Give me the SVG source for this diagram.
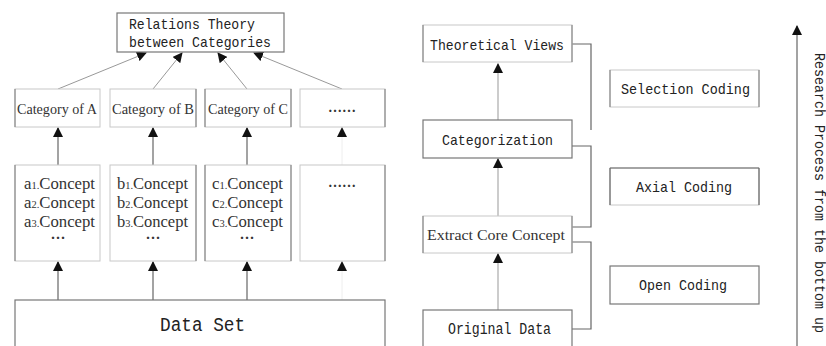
<svg xmlns="http://www.w3.org/2000/svg" width="826" height="346" viewBox="0 0 826 346">
<style>
.bg{fill:#fff}
.box{fill:#fff;stroke:#c8c8c8;stroke-width:1}
.side{stroke:#8a8a8a;stroke-width:1.2;fill:none}
.dk{fill:#fff;stroke:#777;stroke-width:1.2}
.mono{font-family:"Liberation Mono","DejaVu Sans Mono",monospace;fill:#222}
.ser{font-family:"Liberation Serif","DejaVu Serif",serif;fill:#333}
.ln{stroke:#999;stroke-width:1;fill:none}
.ln2{stroke:#666;stroke-width:1.2;fill:none}
.sub{font-size:10px}
</style>
<defs>
<marker id="ah" viewBox="0 0 10 10" refX="9" refY="5" markerWidth="10" markerHeight="10" markerUnits="userSpaceOnUse" orient="auto">
<path d="M0,0 L10,5 L0,10 z" fill="#111"/>
</marker>
</defs>
<rect class="bg" x="0" y="0" width="826" height="346"/>

<g id="connectors">
<line class="ln" x1="58" y1="89" x2="146" y2="53" marker-end="url(#ah)"/>
<line class="ln" x1="153" y1="89" x2="182" y2="53" marker-end="url(#ah)"/>
<line class="ln" x1="247" y1="89" x2="218" y2="53" marker-end="url(#ah)"/>
<line class="ln" x1="342" y1="89" x2="254" y2="53" marker-end="url(#ah)"/>
<line class="ln2" x1="58" y1="165" x2="58" y2="128" marker-end="url(#ah)"/>
<line class="ln2" x1="153" y1="165" x2="153" y2="128" marker-end="url(#ah)"/>
<line class="ln2" x1="247" y1="165" x2="247" y2="128" marker-end="url(#ah)"/>
<line stroke="#eee" x1="342" y1="165" x2="342" y2="128" marker-end="url(#ah)"/>
<line class="ln2" x1="58" y1="300" x2="58" y2="262" marker-end="url(#ah)"/>
<line class="ln2" x1="153" y1="300" x2="153" y2="262" marker-end="url(#ah)"/>
<line class="ln2" x1="247" y1="300" x2="247" y2="262" marker-end="url(#ah)"/>
<line stroke="#eee" x1="342" y1="300" x2="342" y2="262" marker-end="url(#ah)"/>
<line class="ln" x1="498" y1="120" x2="498" y2="64" marker-end="url(#ah)"/>
<line class="ln" x1="498" y1="216" x2="498" y2="159" marker-end="url(#ah)"/>
<line class="ln" x1="498" y1="310" x2="498" y2="254" marker-end="url(#ah)"/>
<polyline class="ln2" points="572,44 591,44 591,130"/>
<polyline class="ln2" points="572,146 591,146 591,227 572,227"/>
<polyline class="ln2" points="572,242 591,242 591,329 572,329"/>
<line class="ln2" x1="797" y1="346" x2="797" y2="26" marker-end="url(#ah)"/>
</g>

<g id="relations">
<rect class="dk" x="117" y="13" width="167" height="39"/>
<text class="mono" font-size="15" x="129" y="29" textLength="126" lengthAdjust="spacingAndGlyphs">Relations Theory</text>
<text class="mono" font-size="15" x="129" y="47" textLength="142" lengthAdjust="spacingAndGlyphs">between Categories</text>
</g>

<g id="catA">
<rect class="box" x="15" y="89" width="85" height="38"/>
<line class="side" x1="15" y1="89" x2="15" y2="127"/>
<text class="ser" font-size="15.5" x="17" y="114" textLength="80" lengthAdjust="spacingAndGlyphs">Category of A</text>
</g>
<g id="catB">
<rect class="box" x="110" y="89" width="86" height="38"/>
<line class="side" x1="196" y1="89" x2="196" y2="127"/>
<text class="ser" font-size="15.5" x="112" y="114" textLength="82" lengthAdjust="spacingAndGlyphs">Category of B</text>
</g>
<g id="catC">
<rect class="box" x="205" y="89" width="86" height="38"/>
<line class="side" x1="205" y1="89" x2="205" y2="127"/>
<line class="side" x1="291" y1="89" x2="291" y2="127"/>
<text class="ser" font-size="15.5" x="208" y="114" textLength="80" lengthAdjust="spacingAndGlyphs">Category of C</text>
</g>
<g id="catD">
<rect class="box" x="300" y="89" width="85" height="38"/>
<line class="side" x1="385" y1="89" x2="385" y2="127"/>
<text class="ser" font-size="14" x="342" y="112" text-anchor="middle" font-weight="bold">……</text>
</g>

<g id="conA">
<rect class="box" x="15" y="165" width="85" height="96"/>
<line class="side" x1="15" y1="165" x2="15" y2="261"/>
<text class="ser" font-size="16" x="24" y="189" textLength="71" lengthAdjust="spacingAndGlyphs">a<tspan class="sub">1.</tspan>Concept</text>
<text class="ser" font-size="16" x="24" y="208" textLength="71" lengthAdjust="spacingAndGlyphs">a<tspan class="sub">2.</tspan>Concept</text>
<text class="ser" font-size="16" x="24" y="227" textLength="71" lengthAdjust="spacingAndGlyphs">a<tspan class="sub">3.</tspan>Concept</text>
<text class="ser" font-size="15" x="58" y="243" text-anchor="middle" font-weight="bold">···</text>
</g>
<g id="conB">
<rect class="box" x="110" y="165" width="86" height="96"/>
<line class="side" x1="196" y1="165" x2="196" y2="261"/>
<text class="ser" font-size="16" x="117" y="189" textLength="71" lengthAdjust="spacingAndGlyphs">b<tspan class="sub">1.</tspan>Concept</text>
<text class="ser" font-size="16" x="117" y="208" textLength="71" lengthAdjust="spacingAndGlyphs">b<tspan class="sub">2.</tspan>Concept</text>
<text class="ser" font-size="16" x="117" y="227" textLength="71" lengthAdjust="spacingAndGlyphs">b<tspan class="sub">3.</tspan>Concept</text>
<text class="ser" font-size="15" x="153" y="243" text-anchor="middle" font-weight="bold">···</text>
</g>
<g id="conC">
<rect class="box" x="205" y="165" width="86" height="96"/>
<line class="side" x1="205" y1="165" x2="205" y2="261"/>
<line class="side" x1="291" y1="165" x2="291" y2="261"/>
<text class="ser" font-size="16" x="212" y="189" textLength="71" lengthAdjust="spacingAndGlyphs">c<tspan class="sub">1.</tspan>Concept</text>
<text class="ser" font-size="16" x="212" y="208" textLength="71" lengthAdjust="spacingAndGlyphs">c<tspan class="sub">2.</tspan>Concept</text>
<text class="ser" font-size="16" x="212" y="227" textLength="71" lengthAdjust="spacingAndGlyphs">c<tspan class="sub">3.</tspan>Concept</text>
<text class="ser" font-size="15" x="247" y="243" text-anchor="middle" font-weight="bold">···</text>
</g>
<g id="conD">
<rect class="box" x="300" y="165" width="85" height="96"/>
<line class="side" x1="385" y1="165" x2="385" y2="261"/>
<text class="ser" font-size="14" x="342" y="187" text-anchor="middle" font-weight="bold">……</text>
</g>

<g id="dataset">
<rect class="dk" x="15" y="300" width="370" height="60"/>
<text class="mono" font-size="20" x="160" y="331" textLength="85" lengthAdjust="spacingAndGlyphs">Data Set</text>
</g>

<g id="theoretical">
<rect class="box" x="423" y="25" width="149" height="37"/>
<line class="side" x1="423" y1="25" x2="423" y2="62"/>
<line class="side" x1="572" y1="25" x2="572" y2="62"/>
<text class="mono" font-size="15" x="430" y="50" textLength="134" lengthAdjust="spacingAndGlyphs">Theoretical Views</text>
</g>
<g id="categorization">
<rect class="dk" x="423" y="120" width="149" height="38"/>
<text class="mono" font-size="15" x="442" y="145" textLength="111" lengthAdjust="spacingAndGlyphs">Categorization</text>
</g>
<g id="extract">
<rect class="box" x="423" y="216" width="149" height="37"/>
<line class="side" x1="423" y1="216" x2="423" y2="253"/>
<line class="side" x1="572" y1="216" x2="572" y2="253"/>
<text class="ser" font-size="15.5" x="427" y="240" textLength="138" lengthAdjust="spacingAndGlyphs">Extract Core Concept</text>
</g>
<g id="original">
<rect class="dk" x="423" y="310" width="149" height="50"/>
<text class="mono" font-size="16" x="448" y="334" textLength="103" lengthAdjust="spacingAndGlyphs">Original Data</text>
</g>

<g id="selection">
<rect class="box" x="610" y="70" width="149" height="37"/>
<line class="side" x1="610" y1="70" x2="610" y2="107"/>
<line class="side" x1="759" y1="70" x2="759" y2="107"/>
<text class="mono" font-size="15" x="621" y="94" textLength="129" lengthAdjust="spacingAndGlyphs">Selection Coding</text>
</g>
<g id="axial">
<rect class="box" x="610" y="168" width="149" height="37"/>
<line class="ln2" x1="610" y1="205" x2="610" y2="168"/>
<line class="ln2" x1="610" y1="168" x2="759" y2="168"/>
<line class="ln2" x1="759" y1="168" x2="759" y2="205"/>
<text class="mono" font-size="15" x="636" y="192" textLength="96" lengthAdjust="spacingAndGlyphs">Axial Coding</text>
</g>
<g id="open">
<rect class="dk" x="610" y="266" width="149" height="38"/>
<text class="mono" font-size="15" x="639" y="290" textLength="88" lengthAdjust="spacingAndGlyphs">Open Coding</text>
</g>

<g id="process-label">
<text class="mono" font-size="14" transform="translate(815,53) rotate(90)" textLength="280" lengthAdjust="spacingAndGlyphs">Research Process from the bottom up</text>
</g>
</svg>
